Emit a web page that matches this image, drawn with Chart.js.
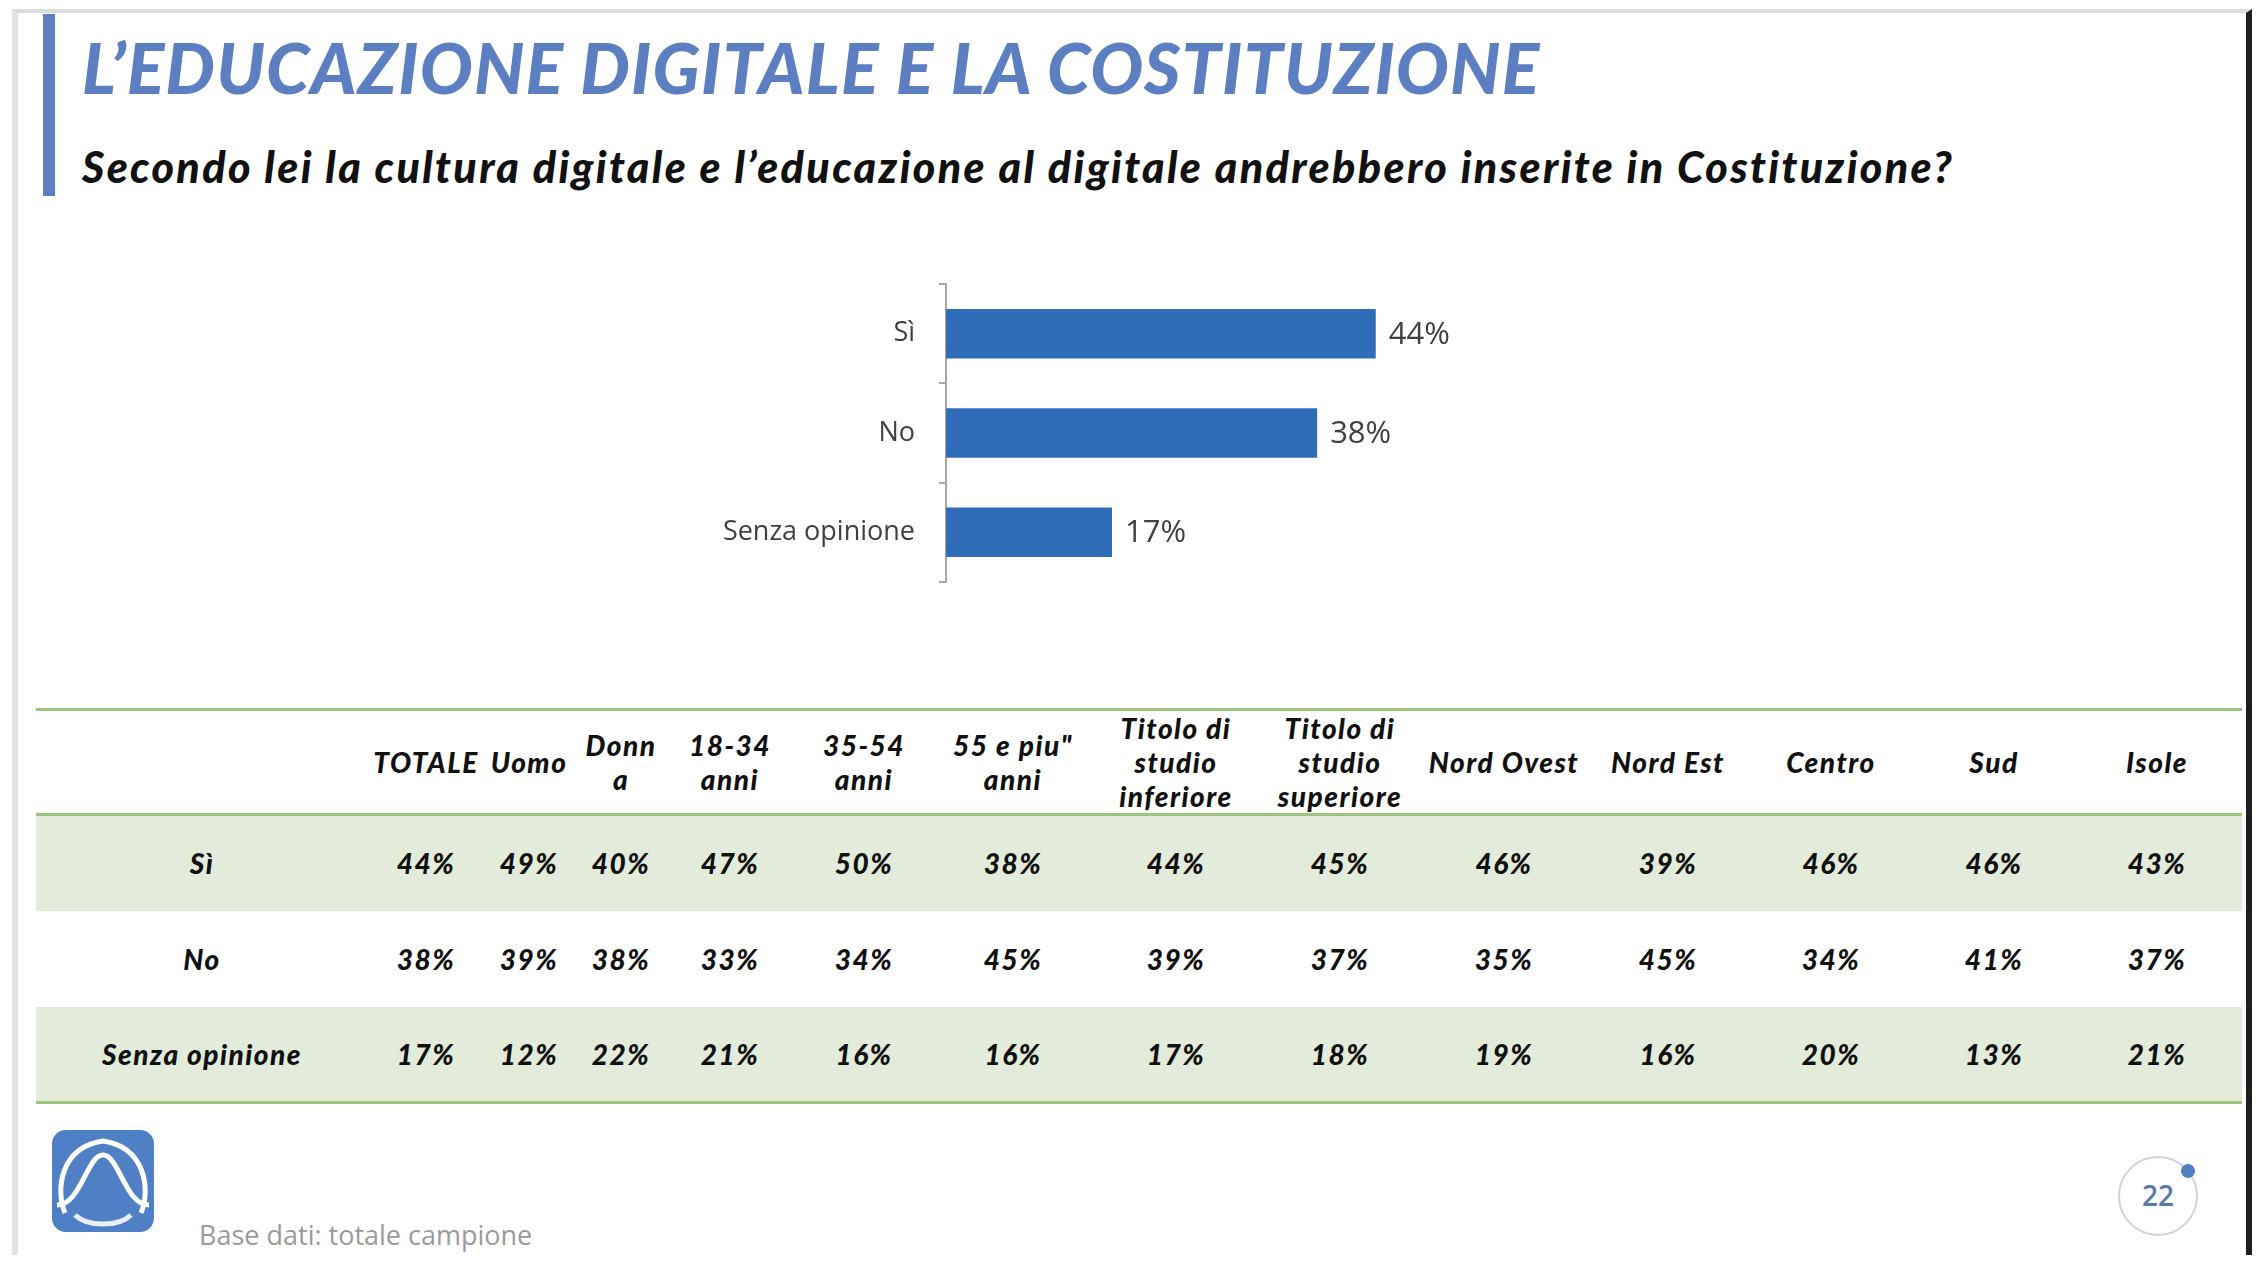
<!DOCTYPE html>
<html lang="it">
<head>
<meta charset="utf-8">
<title>L'educazione digitale e la Costituzione</title>
<script src="https://cdn.jsdelivr.net/npm/chart.js@4/dist/chart.umd.min.js"></script>
<style>
  html, body { margin: 0; padding: 0; background: #fff; }
  body { width: 2266px; height: 1288px; position: relative; overflow: hidden; font-family: "Lato", sans-serif; }
  .frame { position: absolute; left: 12px; top: 9px; width: 2228px; height: 1242px;
    border-left: 6px solid #e3e3e3; border-top: 4px solid #dcdcdc; border-right: 6px solid #1e1e1e; }
  .accent { position: absolute; left: 43px; top: 14px; width: 12px; height: 182px; background: #5b7fc1; }
  h1 { position: absolute; left: 82px; top: 25px; margin: 0; font: italic 900 70px "Lato", sans-serif;
    line-height: normal; color: #5b7fc1; white-space: nowrap; letter-spacing: 1.2px; }
  h2 { position: absolute; left: 82px; top: 141px; margin: 0; font: italic 900 43px "Lato", sans-serif;
    line-height: normal; color: #111; white-space: nowrap; letter-spacing: 2.35px; }
  #chartBox { position: absolute; left: 600px; top: 244px; width: 1000px; height: 378px; }
  table { position: absolute; left: 36px; top: 708px; border-collapse: collapse; table-layout: fixed; width: 2206px;
    border-top: 3px solid #9cc47a; border-bottom: 3px solid #9cc47a; }
  th, td { text-align: center; font: italic 900 28px "Lato", sans-serif; color: #111; padding: 0;
    white-space: pre-line; letter-spacing: 1.5px; }
  thead tr { height: 100px; border-bottom: 3px solid #9cc47a; }
  thead th { line-height: 34px; }
  tbody tr { height: 96px; }
  tbody tr.shade { background: #e3ebda; }
  .base { position: absolute; left: 199px; top: 1216px; font: 27px "Open Sans", sans-serif; color: #9a9a9a; }
  .logo { position: absolute; left: 51px; top: 1129px; }
  .pager { position: absolute; left: 2110px; top: 1145px; }
</style>
</head>
<body>
<div class="frame"></div>
<div class="accent"></div>
<h1>L’EDUCAZIONE DIGITALE E LA COSTITUZIONE</h1>
<h2>Secondo lei la cultura digitale e l’educazione al digitale andrebbero inserite in Costituzione?</h2>

<div id="chartBox"><canvas id="totalChart" width="1000" height="378"></canvas></div>

<table id="crossTable"></table>

<svg class="logo" width="104" height="104" viewBox="0 0 104 104">
  <rect x="1" y="1" width="102" height="102" rx="14" fill="#4f80c6"/>
  <path d="M14 84 C4 60 10 18 52 12 C94 18 100 60 90 84" fill="none" stroke="#fff" stroke-width="5"/>
  <path d="M6 76 C30 76 36 26 52 26 C68 26 74 76 98 76" fill="none" stroke="#fff" stroke-width="5"/>
  <path d="M24 86 C36 98 68 98 80 86" fill="none" stroke="#e8eef7" stroke-width="5"/>
</svg>
<div class="base">Base dati: totale campione</div>

<svg class="pager" width="100" height="100" viewBox="0 0 100 100">
  <circle cx="48" cy="51" r="39" fill="none" stroke="#cfd4dc" stroke-width="2"/>
  <circle cx="78" cy="26" r="7" fill="#4f7fc4"/>
  <text x="48" y="61" text-anchor="middle" font-family="Open Sans" font-size="28" font-weight="600" fill="#5a78aa">22</text>
</svg>

<script>
const categories = ["Sì", "No", "Senza opinione"];
const totalValues = [44, 38, 17];

const columnHeaders = ["TOTALE", "Uomo", "Donn\na", "18-34\nanni", "35-54\nanni", "55 e piu\"\nanni",
  "Titolo di\nstudio\ninferiore", "Titolo di\nstudio\nsuperiore", "Nord Ovest", "Nord Est", "Centro", "Sud", "Isole"];
const columnWidths = [332, 116, 90, 94, 124, 144, 154, 172, 156, 172, 156, 170, 156, 170];
const siRow = [44, 49, 40, 47, 50, 38, 44, 45, 46, 39, 46, 46, 43];
const noRow = [38, 39, 38, 33, 34, 45, 39, 37, 35, 45, 34, 41, 37];
const senzaRow = [17, 12, 22, 21, 16, 16, 17, 18, 19, 16, 20, 13, 21];

const barColor = "#2f6db8";
const textGray = "#404040";
const axisGray = "#a8a8a8";

// value labels at the end of each bar
const valueLabels = {
  id: "valueLabels",
  afterDatasetsDraw(chart) {
    const { ctx } = chart;
    const meta = chart.getDatasetMeta(0);
    ctx.save();
    ctx.font = "31px 'Open Sans'";
    ctx.fillStyle = textGray;
    ctx.textBaseline = "middle";
    meta.data.forEach((bar, i) => {
      ctx.fillText(totalValues[i] + "%", bar.x + 13, bar.y + 1);
    });
    ctx.restore();
  },
};

function renderChart() {
  new Chart(document.getElementById("totalChart"), {
    type: "bar",
    data: {
      labels: categories,
      datasets: [
        {
          data: totalValues,
          backgroundColor: barColor,
          barPercentage: 0.5,
          categoryPercentage: 1,
        },
      ],
    },
    options: {
      indexAxis: "y",
      responsive: false,
      animation: false,
      layout: { padding: { top: 12, bottom: 17, right: 68, left: 0 } },
      plugins: { legend: { display: false }, tooltip: { enabled: false } },
      scales: {
        x: { display: false, min: 0, max: 60 },
        y: {
          afterFit: (scale) => { scale.width = 346; },
          grid: { drawOnChartArea: false, drawTicks: true, tickLength: 7, color: axisGray, lineWidth: 2, offset: true },
          border: { display: true, color: axisGray, width: 2 },
          ticks: { color: textGray, padding: 24, font: { family: "'Open Sans'", size: 27 } },
        },
      },
    },
    plugins: [valueLabels],
  });
}

function renderTable() {
  const table = document.getElementById("crossTable");
  const colgroup = document.createElement("colgroup");
  columnWidths.forEach((w) => {
    const col = document.createElement("col");
    col.style.width = w + "px";
    colgroup.appendChild(col);
  });
  table.appendChild(colgroup);

  const thead = document.createElement("thead");
  const headRow = document.createElement("tr");
  headRow.appendChild(document.createElement("th"));
  columnHeaders.forEach((h) => {
    const th = document.createElement("th");
    th.textContent = h;
    headRow.appendChild(th);
  });
  thead.appendChild(headRow);
  table.appendChild(thead);

  const tbody = document.createElement("tbody");
  [siRow, noRow, senzaRow].forEach((values, i) => {
    const tr = document.createElement("tr");
    if (i !== 1) tr.className = "shade";
    const label = document.createElement("td");
    label.textContent = categories[i];
    tr.appendChild(label);
    values.forEach((v) => {
      const td = document.createElement("td");
      td.textContent = v + "%";
      tr.appendChild(td);
    });
    tbody.appendChild(tr);
  });
  table.appendChild(tbody);
}

renderChart();
renderTable();
</script>
</body>
</html>
